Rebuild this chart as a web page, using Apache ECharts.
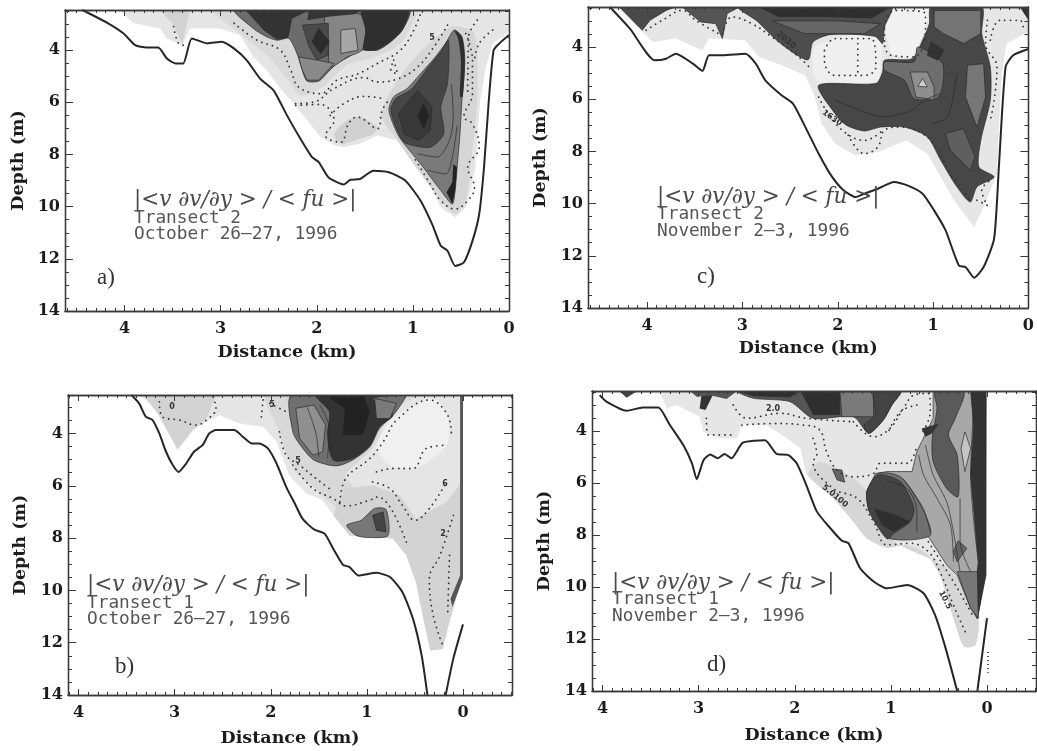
<!DOCTYPE html>
<html><head><meta charset="utf-8">
<script src="https://cdn.jsdelivr.net/npm/echarts@6/dist/echarts.min.js"></script>
<style>html,body{margin:0;padding:0;background:#fff}#main{width:1037px;height:751px;filter:blur(0.5px)}</style>
</head><body><div id="main"></div>
<script>
const distanceTicks=[4,3,2,1,0];
const depthTicks=[4,6,8,10,12,14];
const depthName='Depth (m)', distanceName='Distance (km)';
const ratioLabel='|<v ∂v/∂y > / < fu >|';

/* ---------- panel a (km, m) ---------- */
const aBed=[[4.44,2.46],[4.18,2.95],[4.01,3.36],[3.89,3.81],[3.77,3.9],[3.65,3.9],[3.56,4.32],[3.47,4.51],[3.39,4.51],[3.3,3.55],[3.14,3.74],[2.99,3.68],[2.86,3.94],[2.73,4.38],[2.59,5.09],[2.45,5.54],[2.31,6.5],[2.17,7.4],[2.05,8.1],[1.98,8.29],[1.88,8.87],[1.72,9.15],[1.65,8.97],[1.55,8.94],[1.41,8.62],[1.25,8.68],[1.08,9],[.92,9.77],[.8,10.67],[.71,11.5],[.64,11.69],[.56,12.27],[.47,12.14],[.38,11.31],[.31,10.28],[.26,8.49],[.21,5.92],[.16,4],[.1,3.74],[0,3.42]];
const aLight=[[4.05,2.46],[3.91,2.97],[3.63,3.17],[3.56,3.55],[3.4,3.81],[3.32,3.17],[3,3.17],[2.8,3.42],[2.66,4.26],[2.52,4.77],[2.38,5.47],[2.24,6.05],[2.1,6.69],[1.96,7.33],[1.82,7.65],[1.72,7.72],[1.55,7.59],[1.37,7.27],[1.16,7.46],[.99,8.23],[.82,9.13],[.71,10.03],[.56,10.41],[.45,10.03],[.4,9.38],[.35,8.49],[.3,5.92],[.24,4.64],[.17,3.74],[0,3.29],[0,2.46]];
const aMidA=[[3.63,2.46],[3.49,3.04],[3.4,3.74],[3.32,2.46]];
const aMidB=[[3.07,2.46],[2.8,3.36],[2.52,4.19],[2.31,5.1],[2.17,5.74],[1.96,5.47],[1.68,4.56],[1.44,4.32],[1.13,3.74],[.99,2.85],[.95,2.46]];
const aMidC=[[1.68,6.69],[1.55,6.56],[1.37,6.95],[1.41,7.21],[1.62,7.47],[1.75,7.6],[1.82,7.21]];
const aMidD=[[1.06,4.64],[.61,3.1],[.36,3.36],[.33,5.92],[.4,8.49],[.45,9.77],[.56,10.28],[.71,9.77],[.92,8.74],[1.16,7.46],[1.33,6.44]];
const aTop=[[2.85,2.46],[2.66,3.17],[2.52,3.49],[2.41,3.62],[2.29,3.55],[2.2,4.19],[2.14,4.9],[2.1,5.19],[1.98,5.19],[1.88,4.83],[1.79,4.51],[1.67,4.26],[1.55,4],[1.37,4],[1.23,3.68],[1.11,3.23],[1.04,2.46]];
const aTopMid=[[1.91,2.64],[1.53,2.65],[1.49,3.36],[1.53,4],[1.68,4.26],[1.86,4.64],[1.88,3.62]];
const aTopPale=[[1.75,3.23],[1.6,3.17],[1.57,4],[1.75,4.13]];
const aTopLeft=[[2.74,2.46],[2.55,3.23],[2.41,3.59],[2.3,3.51],[2.26,2.78],[2.08,2.46]];
const aTopRight=[[1.53,2.46],[1.49,3.23],[1.51,3.97],[1.37,3.97],[1.23,3.65],[1.11,3.21],[1.05,2.46]];
const aTopCentre=[[2.15,3.04],[1.88,2.97],[1.88,4.19],[2,4.38],[2.08,3.87]];
const aTopLens=[[1.98,3.17],[1.87,3.68],[1.96,4.13],[2.05,3.68]];
const aTopCap=[[2.08,2.46],[1.53,2.46],[1.61,2.62],[1.88,2.72],[2.1,2.85]];
const aTopFoot=[[2.19,4.26],[2,4.38],[1.82,4.51],[1.98,5.15],[2.1,5.15],[2.15,4.77]];
const aLow=[[.57,3.23],[.49,3.49],[.46,4.38],[.49,5.92],[.51,7.21],[.54,8.49],[.56,9.38],[.59,9.9],[.71,9.38],[.92,8.36],[1.09,7.59],[1.16,7.21],[1.25,6.31],[1.2,5.79],[1.06,5.47],[.92,4.9],[.78,4.32],[.66,3.74]];
const aLowDark=[[1.23,6.31],[1.18,5.86],[1.02,5.51],[.85,4.71],[.71,4.06],[.63,3.62],[.64,5.28],[.71,6.18],[.68,7.21],[.82,7.72],[1.08,7.56],[1.15,7.18]];
const aLowCore=[[.95,5.54],[.8,6.18],[.82,7.08],[.94,7.46],[1.09,7.21],[1.15,6.44]];
const aLowLens=[[.89,6.05],[.83,6.5],[.89,7.01],[.95,6.5]];
const aLowEdge=[[.57,3.23],[.49,3.49],[.46,4.38],[.48,5.79],[.51,5.79],[.5,4.38],[.53,3.55]];
const aLowTip=[[.58,8.36],[.54,8.49],[.56,9.38],[.59,9.9],[.65,9.45],[.59,9.06]];
const aLineA=[[.95,7.97],[.75,8.1],[.62,7.46],[.58,6.5],[.6,5.3]];
const aLineB=[[.85,8.6],[.66,8.75],[.59,8.1],[.54,6.9]];
const aDotA=[[3.49,3.1],[3.44,3.74],[3.39,3.81]];
const aDotB=[[2.86,2.97],[2.62,3.62],[2.38,4],[2.27,4.77],[2.19,5.41],[1.96,5.67],[1.79,5.15],[1.58,4.92],[1.37,4.51],[1.13,4],[.99,3.23],[.92,2.59]];
const aDotC=[[2.22,6.05],[2.03,5.99],[1.82,5.47],[1.51,5.05],[1.37,5.22],[1.15,5.09],[.95,4.64],[.78,3.87],[.64,3.04]];
const aDotD=[[2.22,6.12],[1.96,6.08],[1.82,6.69],[1.91,7.27],[1.75,7.53],[1.67,6.82],[1.58,6.56],[1.37,7.01],[1.32,6.31],[1.25,5.92]];
const aDotE=[[1.86,6.5],[1.72,6.05],[1.51,5.77],[1.3,5.86]];
const aDotF=[[.45,3.36],[.38,4.38],[.38,5.67],[.47,6.56],[.38,6.82],[.31,7.72],[.43,8.49],[.36,9.26],[.43,9.77],[.56,10.09],[.71,9.77],[.82,9.13],[.99,8.1]];
const aDotG=[[.33,2.85],[.42,3.49],[.43,5.67]];
const aDotH=[[.17,3.23],[.31,3.74],[.36,4.38]];
const aDotI=[[1.2,4.38],[1.16,4.9],[1.23,4.77],[1.2,4.38]];

/* ---------- panel c ---------- */
const cBed=[[4.39,2.47],[4.18,3.3],[3.92,4.51],[3.8,4.45],[3.7,4.26],[3.52,4.64],[3.42,4.92],[3.35,4.32],[3.21,4.32],[2.97,4.26],[2.86,4.64],[2.76,5.28],[2.59,5.85],[2.47,6.17],[2.34,7.07],[2.2,8.09],[2.07,8.92],[1.94,9.49],[1.81,9.75],[1.72,9.62],[1.58,9.43],[1.41,9.17],[1.27,9.3],[1.11,9.62],[.99,10.26],[.87,11.02],[.73,12.37],[.66,12.43],[.57,12.84],[.47,12.43],[.36,11.34],[.31,8.6],[.24,4.77],[.16,4.32],[0,4.08]];
const cLight=[[4.32,2.47],[3.94,3.81],[3.7,3.68],[3.42,4.13],[3.35,3.68],[2.97,3.74],[2.83,4.38],[2.59,4.7],[2.34,5.09],[2.24,5.92],[2.17,6.94],[2.03,7.7],[1.82,8.15],[1.58,8.02],[1.28,7.58],[1.06,8.09],[.92,8.98],[.78,9.87],[.57,10.9],[.47,10.13],[.33,8.85],[.31,7.06],[.28,5.02],[.23,3.87],[0,3.43],[0,2.47]];
const cPaleA=[[1.44,2.47],[1.04,2.47],[1.08,3.36],[1.22,4.45],[1.44,4.32],[1.51,3.23]];
const cPaleB=[[2.22,3.94],[1.86,3.55],[1.56,3.74],[1.55,4.89],[1.6,5.34],[2.2,5.34],[2.27,4.51]];
const cTriA=[[4.29,2.47],[4.05,3.36],[3.97,2.98],[3.8,2.6],[3.7,2.47]];
const cTriB=[[3.63,2.47],[3.44,3.04],[3.28,3.11],[3.21,3.68],[3.16,2.72],[3.03,2.47]];
const cTop=[[3.04,2.47],[2.85,3],[2.66,3.68],[2.48,4.19],[2.31,4.49],[2.26,3.81],[2.08,3.53],[1.61,3.59],[1.53,3.87],[1.51,3.23],[1.44,2.47]];
const cTopMid=[[2.69,3],[2.35,3.49],[1.72,3.49],[1.55,3.11],[2,3]];
const cTopDark=[[2.83,2.47],[1.44,2.47],[1.65,2.91],[2.1,2.85],[2.62,2.85]];
const cMain=[[1.02,2.47],[.49,2.47],[.49,3.49],[.4,4.77],[.4,6.04],[.5,7.58],[.52,8.6],[.36,8.98],[.54,9.36],[.61,9.94],[.75,9.36],[.92,8.34],[1.06,7.45],[1.3,7.07],[1.55,7.07],[1.72,7.22],[1.91,7],[2.03,6.55],[2.2,5.47],[1.6,5.4],[1.53,4.96],[1.51,4.51],[1.22,4.45],[1.11,3.74],[1.04,3.11]];
const cGreyA=[[.99,2.6],[.5,2.6],[.5,3.49],[.68,3.87],[.89,3.49],[.99,3.23]];
const cGreyB=[[1.51,4.57],[1.2,4.57],[1.16,4],[.9,4.64],[.94,5.92],[1.2,5.98],[1.3,5.28],[1.51,4.89]];
const cGreyC=[[1.24,4.96],[1.06,4.96],[.99,5.53],[.99,6.02],[1.18,5.92]];
const cPaleTri=[[1.11,5.21],[1.06,5.53],[1.16,5.51]];
const cGreyD=[[.64,4.7],[.47,4.64],[.45,5.92],[.54,7.07],[.66,5.92]];
const cLens=[[1.02,3.81],[.89,4.13],[.95,4.51],[1.06,4.32]];
const cGreyE=[[.87,7.32],[.68,7.13],[.56,8.21],[.61,8.73],[.82,7.96]];
const cCorner=[[.09,2.47],[0,2.47],[0,2.98]];
const cLineA=[[2.03,6.04],[1.72,6.49],[1.51,6.68],[1.23,6.43],[1.09,6.04],[.92,5.79]];
const cLineB=[[.75,5.02],[.85,6.69],[1.02,6.94]];
const cDotA=[[4.01,3.36],[3.84,2.98],[3.63,2.6],[3.49,2.98],[3.25,3.49]];
const cDotB=[[3.21,3.49],[3.11,2.85],[2.9,3.11],[2.69,3.62],[2.41,4.38],[2.27,4.89]];
const cDotC=[[2.14,4.13],[2.03,3.68],[1.65,3.68],[1.6,4.77],[1.72,5.09],[2.03,5.09],[2.14,4.51],[2.14,4.13]];
const cDotD=[[1.79,3.87],[1.79,5.09]];
const cDotE=[[1.51,3.23],[1.41,2.6],[1.08,2.72],[1.08,3.36],[1.2,4.38],[1.44,4.32],[1.51,3.87],[1.51,3.23]];
const cDotF=[[2.2,5.92],[2.1,6.55],[1.93,7.26],[1.72,7.58],[1.51,7.13]];
const cDotG=[[1.89,7.38],[1.72,8.09],[1.58,7.83],[1.51,7.19],[1.34,7.07],[1.11,7.32],[.95,7.96],[.82,8.85],[.61,9.87]];
const cDotH=[[.54,9.87],[.43,10.07],[.49,9.49],[.4,9.11]];
const cDotI=[[.43,2.98],[.45,3.87],[.33,4.77],[.36,6.04],[.4,6.81]];
const cDotJ=[[.4,3.74],[.3,2.98],[.09,2.98],[.05,3.36]];

/* ---------- panel b ---------- */
const bBed=[[3.45,2.53],[3.37,2.85],[3.3,3.36],[3.23,3.49],[3.16,4],[3.09,4.7],[3.02,5.21],[2.96,5.47],[2.88,5.15],[2.8,4.7],[2.71,4.45],[2.64,4],[2.57,3.87],[2.38,3.87],[2.29,4.13],[2.2,4.38],[2.12,4.38],[2.03,4.57],[1.94,5.15],[1.84,6.04],[1.75,6.68],[1.67,7.26],[1.55,7.67],[1.44,7.83],[1.35,8.41],[1.25,9.02],[1.18,9.11],[1.09,9.43],[.9,9.33],[.76,9.49],[.63,10.07],[.52,11.09],[.43,12.49],[.37,14]];
const bBedEast=[[.18,14],[.1,12.6],[0,11.3]];
const bLight=[[3.4,2.53],[3.26,2.79],[3.16,3.36],[2.97,4.64],[2.81,3.87],[2.67,3.55],[2.53,3.3],[2.33,3.62],[2.08,3.74],[1.94,4.32],[1.81,5.6],[1.63,6.3],[1.46,6.55],[1.32,7.26],[1.18,7.9],[1.01,8],[.73,8.02],[.59,8.66],[.49,9.68],[.42,10.96],[.34,12.3],[.21,12.24],[.16,11.47],[.02,9.62],[0,9.43],[0,2.53]];
const bMidA=[[3.33,2.53],[3.16,3.3],[2.97,4.6],[2.81,3.87],[2.67,3.43],[2.57,2.53]];
const bMidB=[[2.05,2.53],[1.94,3.68],[1.77,5.34],[1.53,6.11],[1.28,6.87],[1.11,6.24],[1.22,5.6],[.94,4.57],[.73,3.04],[.45,2.53]];
const bMidC=[[.73,8.02],[.59,8.66],[.49,9.68],[.42,10.96],[.34,12.3],[.21,12.24],[.16,11.47],[.02,9.62],[.01,5.85],[.17,6.62],[.49,7.26],[.66,6.36],[.94,5.98],[1.25,6.11],[1.35,7.13],[1.18,7.9]];
const bPale=[[.73,3.43],[.31,2.66],[.16,3.3],[.17,4.45],[.49,5.34],[.73,5.28],[.9,4.57]];
const bTop=[[1.78,2.53],[1.77,3.94],[1.68,4.51],[1.55,5.02],[1.32,5.24],[1.15,5.02],[.97,4.51],[.87,3.81],[.71,3.23],[.61,2.53]];
const bTopDark=[[1.53,2.53],[1.39,3.17],[1.41,4.06],[1.35,5.02],[1.15,4.96],[.97,4.47],[.87,3.74],[.73,3.3],[.94,2.66],[.62,2.53]];
const bTopCore=[[1.23,3.04],[1.25,4.06],[1.04,4.06],[.97,3.17],[1.04,2.53],[1.43,2.53]];
const bTopPale=[[1.74,3.04],[1.55,2.91],[1.43,3.68],[1.46,4.7],[1.56,4.83],[1.7,4.19]];
const bTopEast=[[.92,2.66],[.69,2.85],[.76,3.43],[.9,3.43]];
const bSpot=[[1.21,7.51],[1.06,7.32],[.92,6.87],[.8,6.91],[.78,7.9],[.97,7.98],[1.11,7.9]];
const bSpotCore=[[.94,7.13],[.83,7],[.8,7.77],[.9,7.7]];
const bEdge=[[.03,2.53],[0,2.53],[0,9.56],[.11,10.64],[.13,10.32],[.03,9.43]];
const bLineA=[[1.49,2.91],[1.39,3.81],[1.41,4.96]];
const bLineB=[[1.62,3],[1.53,4],[1.5,4.9]];
const bDotA=[[3.16,2.79],[3.13,3.36],[2.95,3.49],[2.78,3.68],[2.67,3.49],[2.57,3.04],[2.6,2.6]];
const bDotB=[[2.08,2.72],[2.1,3.43]];
const bDotC=[[2.01,2.85],[1.84,3.17]];
const bDotD=[[1.77,5.21],[1.56,6.11],[1.35,6.49],[1.22,6.77],[.97,6.55],[.89,6.43],[.75,6.87],[.59,8.15]];
const bDotE=[[1.28,6.62],[1.22,5.72],[.97,4.96],[.83,4.32],[.69,3.49],[.35,2.72],[.16,3.3],[.12,4.06]];
const bDotF=[[.94,5.85],[.76,6.11],[.63,6.75],[.5,7.32],[.35,6.87],[.17,5.85]];
const bDotG=[[.9,5.47],[.73,5.34],[.52,5.34],[.38,4.57],[.17,4.45]];
const bDotH=[[.1,7.13],[.24,8.66],[.35,9.56],[.31,10.96],[.21,12.11]];
const bDotI=[[.14,8.66],[.16,10.96]];
const bDotJ=[[1.91,3.94],[1.84,4.83],[1.7,5.21],[1.53,5.72],[1.39,6.11]];

/* ---------- panel d ---------- */
const dBed=[[4.03,2.62],[3.96,2.87],[3.75,3.22],[3.58,3.09],[3.42,3.09],[3.3,3.77],[3.16,4.54],[3.07,5.24],[3.02,5.85],[2.95,5.12],[2.88,4.9],[2.8,5.05],[2.73,4.88],[2.66,5.05],[2.54,4.45],[2.31,4.35],[2.19,4.88],[2.07,4.92],[1.98,5.24],[1.88,6.08],[1.77,7.1],[1.63,7.74],[1.51,8.22],[1.44,8.32],[1.32,9.28],[1.18,9.79],[1.04,10.05],[.83,9.92],[.66,10.24],[.54,11.08],[.43,12.36],[.31,14]];
const dBedEast=[[.1,14],[0,11.2]];
const dBedDots=[[-.01,12.5],[-.01,13.3]];
const dLight=[[4.03,2.46],[3.4,2.55],[3.33,3.13],[3.23,3],[2.99,3.45],[2.95,4.03],[2.78,4.28],[2.6,4.28],[2.55,3.74],[2.29,3.79],[2.08,4.28],[1.94,4.67],[1.88,5.69],[1.6,6.59],[1.39,7.49],[1.25,8.13],[1.04,8.49],[.83,8.38],[.63,8.71],[.49,9.54],[.35,11.21],[.24,12.29],[.12,12.23],[.09,11.2],[.02,9.54],[.01,2.46]];
const dHalo=[[1.86,5.69],[1.6,6.59],[1.39,7.49],[1.25,8.13],[1.04,8.49],[.83,8.38],[.63,8.71],[.49,9.54],[.35,11.2],[.24,12.29],[.12,12.23],[.09,11.2],[.35,9.41],[1.01,8.13],[1.25,6.33],[1.39,5.82],[1.74,5.18]];
const dOuter=[[.56,2.46],[.56,3.51],[.73,4.79],[.78,5.56],[1.04,5.56],[1.16,5.63],[1.25,6.33],[1.22,7.1],[1.01,8.15],[.61,8.06],[.42,9.15],[.31,9.54],[.17,10.82],[.1,11.23],[.02,9.54],[.01,2.46]];
const dRing=[[1.13,5.63],[.9,5.76],[.69,6.85],[.59,8.01],[1.01,8.13],[1.22,7.13],[1.25,6.33]];
const dBlob=[[1.13,5.69],[.9,5.95],[.76,6.97],[.8,7.49],[.97,7.94],[1.04,8.15],[1.22,7.13],[1.25,6.33]];
const dBlobLens=[[1.18,6.97],[.94,7.23],[.8,7.49],[.97,7.87],[1.09,7.62]];
const dColA=[[.54,2.49],[.24,2.49],[.33,3.51],[.4,4.15],[.31,4.92],[.3,6.53],[.42,6.21],[.56,5.18],[.57,4.28],[.52,3.13]];
const dColB=[[.17,2.46],[.01,2.46],[.01,9.54],[.1,11.2],[.15,10.82],[.09,9.03],[.17,5.69],[.14,3.77]];
const dSpindle=[[.23,4.03],[.17,4.67],[.23,5.56],[.27,4.67]];
const dDiamond=[[.3,8.22],[.21,8.51],[.31,9.03],[.35,8.64]];
const dFoot=[[.31,9.41],[.1,9.41],[.09,11.2],[.17,10.82]];
const dTop=[[2.6,2.46],[2.43,2.74],[2.05,2.87],[1.81,3.51],[1.39,3.45],[1.23,4.09],[1.08,3.58],[.99,3],[.9,2.46]];
const dTopCore=[[1.94,2.46],[1.81,3.38],[1.53,3.38],[1.53,2.46]];
const dTopCap=[[2.6,2.46],[2.43,2.66],[2.05,2.7],[1.94,2.46]];
const dTopStripe=[[1.53,2.49],[1.18,2.49],[1.18,3.45],[1.51,3.45]];
const dTopEast=[[1.18,2.46],[.9,2.46],[.99,3],[1.08,3.58],[1.23,4.09],[1.28,3.77],[1.16,3.38]];
const dPatchA=[[2.97,2.59],[2.85,2.59],[2.93,3.19],[2.99,3.13]];
const dPatchB=[[3.09,2.46],[2.6,2.46],[2.71,2.77],[2.88,2.62],[3.02,2.68]];
const dPatchC=[[3.82,2.49],[3.65,2.49],[3.75,2.72]];
const dPatchD=[[.68,3.9],[.5,3.71],[.57,4.09],[.64,4.22]];
const dPatchE=[[1.61,5.46],[1.51,5.5],[1.48,5.97],[1.56,5.88]];
const dLineA=[[.71,4.92],[.66,5.69],[.52,6.59],[.38,7.62],[.35,9.03]];
const dLineB=[[.64,4.54],[.56,5.69],[.42,6.72],[.35,7.87],[.28,9.41]];
const dLineC=[[.28,6.59],[.28,8.26],[.17,9.41]];
const dLineD=[[.14,3.13],[.17,5.69],[.09,9.03]];
const dLineE=[[.87,5.85],[.66,7],[.59,7.9]];
const dLineF=[[1.04,5.92],[.83,6.21],[.73,7.1],[.73,7.87]];
const dDotA=[[2.92,3.51],[2.9,4.15],[2.64,4.15]];
const dDotB=[[2.55,3.77],[2.22,3.71],[1.91,3.77],[1.74,3.96],[1.67,4.79],[1.56,5.5],[1.39,5.76],[1.18,5.63],[1.11,5.24],[.83,5.24],[.73,4.54]];
const dDotC=[[1.81,4.28],[1.77,4.92],[1.81,5.18],[1.6,6.21],[1.35,6.59],[1.18,7.49],[1.04,8.38],[.8,8.32],[.61,8.64],[.49,9.41],[.35,10.69],[.21,11.85]];
const dDotD=[[1.39,3.64],[1.18,4.22],[1.01,3.9],[.87,3.13],[.76,2.62],[.61,2.55],[.59,3.26],[.69,4.15]];
const dDotE=[[.73,3],[.9,3.26],[1.04,4.15]];
const dDotF=[[2.64,3],[2.5,3.51],[2.15,3.32],[1.88,3.51],[1.39,3.64]];
const dDotG=[[.61,8.26],[.35,9.79],[.17,10.95],[.14,11.2]];

/* ---------- layout and styling, separate from the values ---------- */
const PANELS=[
 {mark:'a)',lines:['Transect 2','October 26–27, 1996'],box:[65,509,10,311],x:[4.62,0],y:[2.46,14],xGap:32,yGap:38,text:[134,200,218,234],markAt:[97,278],bed:[aBed],
  fills:[[aLight,'#e5e5e5'],[aMidA,'#d2d2d2'],[aMidB,'#d9d9d9'],[aMidC,'#d0d0d0'],[aMidD,'#d6d6d6'],[aTop,'#6c6c6c',1],[aTopMid,'#858585',1],[aTopPale,'#a6a6a6',1],[aTopLeft,'#333333',1],[aTopRight,'#2f2f2f',1],[aTopCentre,'#4a4a4a',1],[aTopLens,'#2c2c2c',1],[aTopCap,'#353535'],[aTopFoot,'#8a8a8a',1],[aLow,'#7a7a7a',1],[aLowDark,'#464646',1],[aLowCore,'#383838',1],[aLowLens,'#242424',1],[aLowEdge,'#2e2e2e'],[aLowTip,'#222222']],
  solid:[aLineA,aLineB],dots:[aDotA,aDotB,aDotC,aDotD,aDotE,aDotF,aDotG,aDotH,aDotI],
  notes:[['5',432,38,0]]},
 {mark:'c)',lines:['Transect 2','November 2–3, 1996'],box:[588,1033,7,308],x:[4.62,0],y:[2.47,14],xGap:31,yGap:39,text:[657,197,214,231],markAt:[697,277],bed:[cBed],
  fills:[[cLight,'#e6e6e6'],[cPaleA,'#f1f1f1'],[cPaleB,'#efefef'],[cTriA,'#4a4a4a',1],[cTriB,'#555555',1],[cTop,'#4d4d4d',1],[cTopMid,'#666666',1],[cTopDark,'#2f2f2f'],[cMain,'#474747',1],[cGreyA,'#747474',1],[cGreyB,'#6e6e6e',1],[cGreyC,'#8e8e8e',1],[cPaleTri,'#cfcfcf',1],[cGreyD,'#777777',1],[cLens,'#333333',1],[cGreyE,'#5f5f5f',1],[cCorner,'#333333']],
  solid:[cLineA,cLineB],dots:[cDotA,cDotB,cDotC,cDotD,cDotE,cDotF,cDotG,cDotH,cDotI,cDotJ],
  notes:[['2030',786,40,-.7],['1630',832,118,-.6]]},
 {mark:'b)',lines:['Transect 1','October 26–27, 1996'],box:[68,512,395,695],x:[4.11,-.51],y:[2.53,14],xGap:34,yGap:39,text:[87,585,603,619],markAt:[115,667],bed:[bBed,bBedEast],
  fills:[[bLight,'#e5e5e5'],[bMidA,'#d2d2d2'],[bMidB,'#d8d8d8'],[bMidC,'#d3d3d3'],[bPale,'#f0f0f0'],[bTop,'#6f6f6f',1],[bTopDark,'#333333',1],[bTopCore,'#222222'],[bTopPale,'#8f8f8f',1],[bTopEast,'#7a7a7a',1],[bSpot,'#777777',1],[bSpotCore,'#444444',1],[bEdge,'#555555']],
  solid:[bLineA,bLineB],dots:[bDotA,bDotB,bDotC,bDotD,bDotE,bDotF,bDotG,bDotH,bDotI,bDotJ],
  notes:[['5',272,405,0],['5',298,461,0],['6',445,484,0],['2',443,534,0],['0',172,407,0]]},
 {mark:'d)',lines:['Transect 1','November 2–3, 1996'],box:[592,1036,391,691],x:[4.11,-.51],y:[2.46,14],xGap:35,yGap:39,text:[612,583,599,616],markAt:[707,665],bed:[dBed,dBedEast],beddots:[dBedDots],
  fills:[[dLight,'#e6e6e6'],[dHalo,'#d6d6d6'],[dOuter,'#a8a8a8',1],[dRing,'#6f6f6f',1],[dBlob,'#444444',1],[dBlobLens,'#2f2f2f'],[dColA,'#5a5a5a',1],[dColB,'#333333',1],[dSpindle,'#c4c4c4',1],[dDiamond,'#666666',1],[dFoot,'#777777',1],[dTop,'#555555',1],[dTopCore,'#2f2f2f'],[dTopCap,'#2f2f2f'],[dTopStripe,'#7a7a7a',1],[dTopEast,'#444444',1],[dPatchA,'#333333'],[dPatchB,'#555555'],[dPatchC,'#444444'],[dPatchD,'#333333'],[dPatchE,'#666666',1]],
  solid:[dLineA,dLineB,dLineC,dLineD,dLineE,dLineF],dots:[dDotA,dDotB,dDotC,dDotD,dDotE,dDotF,dDotG],
  notes:[['5.0100',835,496,-.7],['2.0',773,409,0],['10.5',945,600,-1.1]]}
];

const W=1037,H=751,FONT='"DejaVu Serif"',FRAME='#3a3a3a';
function stepped(lo,hi,step){const o=[];for(let i=Math.ceil(lo/step-1e-9);i*step<=hi+1e-9;i++)o.push(+(i*step).toFixed(2));return o;}
const grid=[],xAxis=[],yAxis=[],series=[],graphic=[];
PANELS.forEach((p,g)=>{
 const [l,r,t,b]=p.box;
 grid.push({left:l,top:t,width:r-l,height:b-t,containLabel:false});
 const xLo=Math.min(...p.x),xHi=Math.max(...p.x);
 const line={show:true,onZero:false,lineStyle:{color:FRAME,width:1.3}};
 const base={gridIndex:g,type:'value',splitLine:{show:false},axisLine:line,z:500};
 const xi=xAxis.length,yi=yAxis.length;
 const xMinor=stepped(xLo,xHi,.1),yMinor=stepped(p.y[0],p.y[1],.5);
 ['bottom','top'].forEach(pos=>{
  xAxis.push({...base,position:pos,min:xLo,max:xHi,inverse:true,
   axisTick:{show:true,inside:true,length:6,customValues:distanceTicks,lineStyle:{color:FRAME,width:1}},
   axisLabel:{show:pos==='bottom',customValues:distanceTicks,margin:10,hideOverlap:false,showMinLabel:true,showMaxLabel:true,fontFamily:FONT,fontWeight:'bold',fontSize:16,color:'#1c1c1c',formatter:v=>String(v)},
   name:pos==='bottom'?distanceName:'',nameLocation:'middle',nameGap:p.xGap,nameTextStyle:{fontFamily:FONT,fontWeight:'bold',fontSize:17.5,color:'#1c1c1c'}});
  xAxis.push({...base,position:pos,min:xLo,max:xHi,inverse:true,axisTick:{show:true,inside:true,length:3,customValues:xMinor,lineStyle:{color:FRAME,width:1}},axisLabel:{show:false}});
 });
 ['left','right'].forEach(pos=>{
  yAxis.push({...base,position:pos,min:p.y[0],max:p.y[1],inverse:true,
   axisTick:{show:true,inside:true,length:8,customValues:depthTicks,lineStyle:{color:FRAME,width:1}},
   axisLabel:{show:pos==='left',customValues:depthTicks,margin:5,hideOverlap:false,showMinLabel:true,showMaxLabel:true,fontFamily:FONT,fontWeight:'bold',fontSize:16,color:'#1c1c1c',formatter:v=>String(v)},
   name:pos==='left'?depthName:'',nameLocation:'middle',nameRotate:90,nameGap:p.yGap,nameTextStyle:{fontFamily:FONT,fontWeight:'bold',fontSize:17.5,color:'#1c1c1c'}});
  yAxis.push({...base,position:pos,min:p.y[0],max:p.y[1],inverse:true,axisTick:{show:true,inside:true,length:4,customValues:yMinor,lineStyle:{color:FRAME,width:1}},axisLabel:{show:false}});
 });
 let z=2;
 p.fills.forEach(([pts,fill,edge])=>{
  const rounded=pts.length>6&&!pts.some(q=>q[0]<=.03);
  series.push({type:'custom',coordinateSystem:'cartesian2d',xAxisIndex:xi,yAxisIndex:yi,z:z++,silent:true,clip:true,data:pts,encode:{x:0,y:1},
   renderItem:(ps,api)=>ps.dataIndex!==0?null:({type:'polygon',shape:{points:pts.map(q=>api.coord(q)),smooth:rounded?.25:0},style:{fill:fill,stroke:edge?'#2a2a2a':null,lineWidth:edge?0.7:0}})});
 });
 const ln=(pts,style,smooth)=>series.push({type:'line',xAxisIndex:xi,yAxisIndex:yi,z:z++,silent:true,showSymbol:false,smooth:smooth||false,clip:true,data:pts,lineStyle:style,emphasis:{disabled:true}});
 p.solid.forEach(s=>ln(s,{color:'#2a2a2a',width:.7},.3));
 p.dots.forEach(s=>ln(s,{color:'#333333',width:1.8,type:[.1,5.5],cap:'round'},.4));
 p.bed.forEach(s=>ln(s,{color:'#262626',width:2},.2));
 (p.beddots||[]).forEach(s=>ln(s,{color:'#444',width:2,type:[1,3]}));
 const tx=p.text[0];
 graphic.push({type:'text',z:900,x:tx,y:p.text[1],style:{text:ratioLabel,font:'italic 21.5px "DejaVu Serif"',fill:'#4a4a4a',verticalAlign:'middle'}});
 p.lines.forEach((s,i)=>graphic.push({type:'text',z:900,x:tx,y:p.text[2+i],style:{text:s,font:'17.8px "DejaVu Sans Mono"',fill:'#555555',verticalAlign:'middle'}}));
 graphic.push({type:'text',z:900,x:p.markAt[0],y:p.markAt[1],style:{text:p.mark,font:'23px "Liberation Serif"',fill:'#333333',verticalAlign:'middle'}});
 p.notes.forEach(([s,nx,ny,rot])=>graphic.push({type:'text',z:900,x:nx,y:ny,rotation:rot,style:{text:s,font:'bold 8px "DejaVu Sans"',fill:'#333333',align:'center',verticalAlign:'middle'}}));
});
const chart=echarts.init(document.getElementById('main'),null,{renderer:'canvas',width:W,height:H});
chart.setOption({animation:false,backgroundColor:'#fff',tooltip:{show:false},grid,xAxis,yAxis,series,graphic});
</script></body></html>
